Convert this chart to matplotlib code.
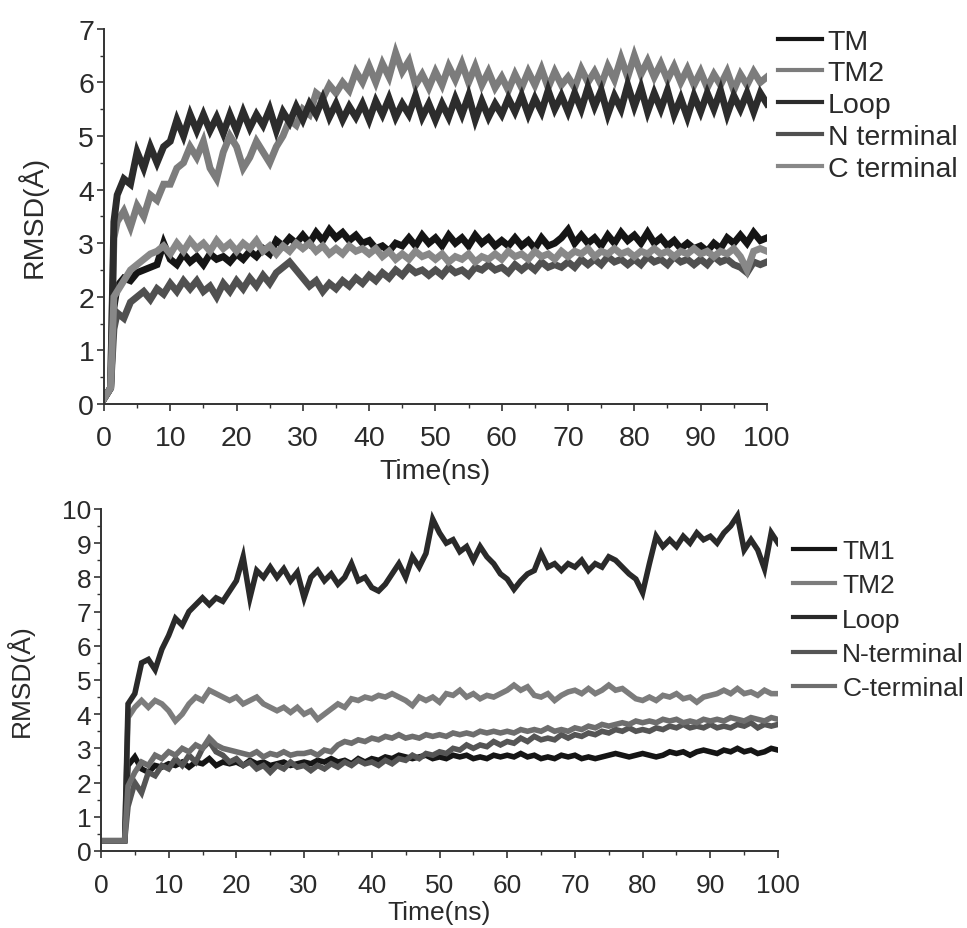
import numpy as np
from matplotlib import pyplot as plt
from matplotlib.ticker import MultipleLocator

# ---- top panel data (time in ns, RMSD in A) ----
t_top = np.concatenate([[0, 0.5, 1.0, 1.5], np.arange(2, 101)])

tm_top = [0.1, 0.2, 0.3, 1.8,
          2.2, 2.35, 2.3, 2.45, 2.5, 2.55, 2.6, 3.0,
          2.7, 2.6, 2.8, 2.65, 2.75, 2.6, 2.8, 2.7, 2.75, 2.65,
          2.8, 2.7, 2.85, 2.75, 2.9, 2.8, 3.05, 2.95, 3.1, 3.0,
          3.15, 3.0, 3.2, 3.05, 3.25, 3.1, 3.2, 3.05, 3.15, 3.0,
          3.05, 2.9, 2.95, 2.85, 3.0, 2.95, 3.1, 2.95, 3.15, 3.0,
          3.1, 2.95, 3.15, 3.0, 3.1, 2.95, 3.15, 3.0, 3.1, 2.95,
          3.05, 2.95, 3.1, 2.95, 3.05, 2.9, 3.1, 2.95, 3.0, 3.1,
          3.25, 3.0, 3.15, 3.0, 3.1, 2.95, 3.15, 3.0, 3.2, 3.05,
          3.15, 3.0, 3.2, 3.0, 3.1, 2.95, 3.05, 2.9, 3.0, 2.9,
          2.95, 2.85, 3.0, 2.9, 3.1, 3.0, 3.15, 3.0, 3.2, 3.05,
          3.1]

tm2_top = [0.1, 0.2, 0.3, 3.1,
           3.4, 3.6, 3.3, 3.7, 3.5, 3.9, 3.8, 4.1,
           4.1, 4.4, 4.5, 4.8, 4.6, 4.9, 4.4, 4.2, 4.7, 5.0,
           4.8, 4.4, 4.6, 4.9, 4.7, 4.5, 4.8, 5.0, 5.3, 5.2,
           5.5, 5.4, 5.8, 5.7, 5.95, 5.8, 6.0, 5.85, 6.2, 6.0,
           6.3, 6.0, 6.35, 6.1, 6.55, 6.2, 6.4, 5.95, 6.15, 5.9,
           6.2, 5.95, 6.3, 6.05, 6.35, 6.0, 6.3, 5.95, 6.2, 5.9,
           6.1, 5.85, 6.15, 5.9, 6.2, 5.95, 6.25, 5.9, 6.2, 5.95,
           6.1, 5.9, 6.25, 6.0, 6.2, 5.95, 6.3, 6.05, 6.45, 6.1,
           6.5, 6.15, 6.4, 6.1, 6.35, 6.05, 6.3, 6.0, 6.25, 5.95,
           6.2, 5.9, 6.15, 5.95, 6.2, 5.85, 6.15, 5.95, 6.2, 6.0,
           6.1]

loop_top = [0.1, 0.2, 0.3, 3.4,
            3.9, 4.2, 4.1, 4.7, 4.4, 4.8, 4.5, 4.8,
            4.9, 5.3, 5.0, 5.4, 5.1, 5.4, 5.1, 5.35, 5.05, 5.4,
            5.1, 5.45, 5.15, 5.4, 5.2, 5.5, 5.1, 5.45, 5.25, 5.55,
            5.3, 5.6, 5.4, 5.7, 5.35, 5.6, 5.3, 5.55, 5.35, 5.6,
            5.3, 5.65, 5.4, 5.7, 5.35, 5.6, 5.4, 5.75, 5.35, 5.6,
            5.3, 5.6, 5.35, 5.7, 5.4, 5.75, 5.3, 5.65, 5.35, 5.6,
            5.4, 5.7, 5.45, 5.75, 5.4, 5.7, 5.45, 5.85, 5.5, 5.75,
            5.45, 5.8, 5.5, 5.9, 5.55, 5.85, 5.4, 5.75, 5.5, 5.95,
            5.55, 5.9, 5.45, 5.8, 5.5, 5.85, 5.4, 5.7, 5.35, 5.75,
            5.45, 5.8, 5.5, 5.85, 5.4, 5.75, 5.5, 5.8, 5.45, 5.8,
            5.6]

nterm_top = [0.1, 0.2, 0.3, 1.4,
             1.7, 1.6, 1.9, 2.0, 2.1, 1.95, 2.15, 2.05,
             2.25, 2.1, 2.3, 2.15, 2.3, 2.1, 2.2, 2.0, 2.25, 2.1,
             2.3, 2.15, 2.35, 2.2, 2.4, 2.25, 2.45, 2.55, 2.65, 2.5,
             2.35, 2.2, 2.3, 2.1, 2.25, 2.15, 2.3, 2.2, 2.35, 2.25,
             2.4, 2.3, 2.45, 2.35, 2.5, 2.4, 2.55, 2.45, 2.5, 2.4,
             2.5, 2.4, 2.55, 2.45, 2.5, 2.4, 2.55, 2.5, 2.6, 2.5,
             2.55, 2.45, 2.6, 2.5, 2.6, 2.5, 2.65, 2.55, 2.6, 2.55,
             2.65, 2.55, 2.7, 2.6, 2.7, 2.6, 2.75, 2.65, 2.7, 2.6,
             2.7, 2.6, 2.75, 2.65, 2.7, 2.6, 2.75, 2.65, 2.7, 2.6,
             2.7, 2.6, 2.75, 2.65, 2.7, 2.6, 2.55, 2.45, 2.65, 2.6,
             2.65]

cterm_top = [0.1, 0.2, 0.3, 2.0,
             2.1, 2.3, 2.5, 2.6, 2.7, 2.8, 2.85, 2.95,
             2.8, 3.0, 2.85, 3.05, 2.9, 3.0, 2.85, 3.05, 2.9, 3.0,
             2.85, 3.0, 2.9, 3.05, 2.85, 2.95, 2.8, 2.95, 2.85, 3.0,
             2.9, 3.0, 2.85, 2.95, 2.8, 2.9, 2.8, 2.95, 2.85, 2.9,
             2.8, 2.9, 2.75, 2.85, 2.7, 2.8, 2.7, 2.85, 2.75, 2.8,
             2.7, 2.8, 2.65, 2.75, 2.7, 2.8, 2.65, 2.75, 2.7, 2.8,
             2.7, 2.85, 2.75, 2.8, 2.7, 2.85, 2.75, 2.8, 2.7, 2.85,
             2.75, 2.85, 2.8, 2.9, 2.75, 2.85, 2.8, 2.9, 2.8, 2.85,
             2.75, 2.85, 2.8, 2.9, 2.8, 2.85, 2.75, 2.85, 2.8, 2.9,
             2.8, 2.85, 2.75, 2.85, 2.8, 2.9, 2.75, 2.5, 2.85, 2.9,
             2.85]

# ---- bottom panel data ----
t_bot = np.concatenate([[0, 1, 2, 3, 3.5], np.arange(4, 101)])

tm1_bot = [0.3, 0.3, 0.3, 0.3, 0.3,
           2.5, 2.75, 2.4, 2.3, 2.5, 2.45,
           2.55, 2.5, 2.6, 2.45, 2.6, 2.55, 2.7, 2.5, 2.6, 2.55,
           2.6, 2.5, 2.65, 2.55, 2.6, 2.5, 2.55, 2.6, 2.5, 2.55,
           2.6, 2.55, 2.65, 2.6, 2.7, 2.6, 2.65, 2.55, 2.7, 2.6,
           2.7, 2.65, 2.75, 2.7, 2.8, 2.75, 2.7, 2.75, 2.8, 2.7,
           2.75, 2.7, 2.8, 2.75, 2.8, 2.7, 2.75, 2.7, 2.8, 2.75,
           2.8, 2.75, 2.85, 2.75, 2.8, 2.7, 2.75, 2.7, 2.8, 2.75,
           2.8, 2.7, 2.75, 2.7, 2.75, 2.8, 2.85, 2.8, 2.75, 2.8,
           2.85, 2.8, 2.75, 2.8, 2.9, 2.85, 2.9, 2.8, 2.9, 2.95,
           2.9, 2.85, 2.95, 2.9, 3.0, 2.9, 2.95, 2.85, 2.9, 3.0,
           2.95]

tm2_bot = [0.3, 0.3, 0.3, 0.3, 0.3,
           3.9, 4.2, 4.4, 4.2, 4.4, 4.3,
           4.1, 3.8, 4.0, 4.3, 4.5, 4.4, 4.7, 4.6, 4.5, 4.4,
           4.5, 4.3, 4.4, 4.5, 4.3, 4.2, 4.1, 4.2, 4.05, 4.2,
           4.0, 4.1, 3.85, 4.0, 4.15, 4.3, 4.2, 4.45, 4.4, 4.5,
           4.45, 4.55, 4.5, 4.6, 4.5, 4.4, 4.25, 4.5, 4.4, 4.5,
           4.35, 4.6, 4.55, 4.7, 4.5, 4.6, 4.45, 4.55, 4.5, 4.6,
           4.7, 4.85, 4.7, 4.8, 4.55, 4.5, 4.6, 4.4, 4.55, 4.65,
           4.7, 4.6, 4.75, 4.6, 4.7, 4.85, 4.7, 4.75, 4.6, 4.45,
           4.4, 4.5, 4.4, 4.55, 4.5, 4.6, 4.45, 4.5, 4.35, 4.5,
           4.55, 4.6, 4.7, 4.6, 4.75, 4.6, 4.65, 4.55, 4.7, 4.6,
           4.6]

loop_bot = [0.3, 0.3, 0.3, 0.3, 0.3,
            4.3, 4.6, 5.5, 5.6, 5.3, 5.9,
            6.3, 6.8, 6.6, 7.0, 7.2, 7.4, 7.2, 7.4, 7.3, 7.6,
            7.9, 8.6, 7.4, 8.2, 8.0, 8.3, 8.0, 8.25, 7.9, 8.15,
            7.4, 8.0, 8.2, 7.9, 8.1, 7.8, 8.0, 8.4, 7.9, 8.0,
            7.7, 7.6, 7.8, 8.1, 8.4, 8.0, 8.6, 8.3, 8.7, 9.7,
            9.3, 9.0, 9.1, 8.75, 8.9, 8.5, 8.9, 8.6, 8.4, 8.1,
            7.95, 7.65, 7.9, 8.1, 8.2, 8.7, 8.3, 8.4, 8.2, 8.4,
            8.3, 8.5, 8.2, 8.4, 8.3, 8.6, 8.5, 8.3, 8.1, 7.95,
            7.55, 8.4, 9.2, 8.9, 9.1, 8.9, 9.2, 9.0, 9.3, 9.1,
            9.2, 9.0, 9.3, 9.5, 9.8, 8.8, 9.1, 8.8, 8.25, 9.3,
            9.0]

nterm_bot = [0.3, 0.3, 0.3, 0.3, 0.3,
             1.3, 2.0, 1.7, 2.3, 2.2, 2.5,
             2.4, 2.7, 2.5, 2.8, 2.6, 3.0, 3.2, 2.9, 2.8, 2.6,
             2.7, 2.5, 2.6, 2.4, 2.5, 2.3, 2.5, 2.4, 2.6, 2.45,
             2.5, 2.35, 2.5, 2.4, 2.55, 2.45, 2.6, 2.5, 2.65, 2.55,
             2.6, 2.5, 2.65, 2.55, 2.7, 2.65, 2.8, 2.7, 2.85, 2.8,
             2.9, 2.85, 3.0, 2.95, 3.1, 3.0, 3.1, 3.05, 3.2, 3.1,
             3.2, 3.15, 3.3, 3.2, 3.35, 3.25, 3.3, 3.25, 3.4, 3.3,
             3.4, 3.35, 3.45, 3.4, 3.5, 3.45, 3.55, 3.5, 3.6, 3.5,
             3.55, 3.5, 3.6, 3.55, 3.65, 3.6, 3.7, 3.6, 3.65, 3.6,
             3.7, 3.6, 3.65, 3.6, 3.7, 3.65, 3.75, 3.6, 3.7, 3.65,
             3.7]

cterm_bot = [0.3, 0.3, 0.3, 0.3, 0.3,
             1.9, 2.3, 2.6, 2.5, 2.8, 2.7,
             2.9, 2.8, 3.0, 2.9, 3.1, 3.0, 3.3, 3.1, 3.0, 2.95,
             2.9, 2.85, 2.8, 2.9, 2.75, 2.85, 2.8, 2.9, 2.8, 2.85,
             2.85, 2.9, 2.8, 2.95, 2.9, 3.1, 3.2, 3.15, 3.25, 3.2,
             3.3, 3.25, 3.35, 3.3, 3.4, 3.3, 3.35, 3.3, 3.4, 3.35,
             3.4, 3.35, 3.45, 3.4, 3.45, 3.4, 3.5, 3.45, 3.5, 3.45,
             3.5, 3.45, 3.55, 3.5, 3.55, 3.5, 3.6, 3.5, 3.55, 3.5,
             3.6, 3.55, 3.65, 3.6, 3.7, 3.65, 3.7, 3.75, 3.7, 3.8,
             3.75, 3.8, 3.75, 3.85, 3.8, 3.85, 3.75, 3.8, 3.75, 3.85,
             3.8, 3.85, 3.8, 3.9, 3.85, 3.8, 3.9, 3.85, 3.8, 3.9,
             3.85]

top_labels = ['TM', 'TM2', 'Loop', 'N terminal', 'C terminal']
top_colors = ['#151515', '#7c7c7c', '#2c2c2c', '#505050', '#888888']
bot_labels = ['TM1', 'TM2', 'Loop', 'N-terminal', 'C-terminal']
bot_colors = ['#151515', '#7c7c7c', '#2a2a2a', '#555555', '#6e6e6e']

plt.rcParams['font.family'] = ['Liberation Sans', 'DejaVu Sans']
txt = '#2a2a2a'

fig = plt.figure(figsize=(9.67, 9.29), dpi=100)
ax1 = fig.add_axes([0.1075, 0.564, 0.6856, 0.404])
ax2 = fig.add_axes([0.1044, 0.0829, 0.7002, 0.3682])


def style(ax, ymax, fs, xpad, xlabpad, ylabpad):
    for s in ['top', 'right']:
        ax.spines[s].set_visible(False)
    for s in ['left', 'bottom']:
        ax.spines[s].set_color('#333333')
        ax.spines[s].set_linewidth(1.4)
    ax.set_xlim(0, 100)
    ax.set_ylim(0, ymax)
    ax.xaxis.set_major_locator(MultipleLocator(10))
    ax.xaxis.set_minor_locator(MultipleLocator(5))
    ax.yaxis.set_major_locator(MultipleLocator(1))
    ax.yaxis.set_minor_locator(MultipleLocator(0.5))
    ax.tick_params(which='major', direction='out', length=5, width=1.2,
                   color='#333333', labelsize=fs, labelcolor=txt, pad=2)
    ax.tick_params(axis='x', which='major', pad=xpad)
    ax.tick_params(which='minor', direction='out', length=3, width=1.0,
                   color='#333333')
    ax.set_xlabel('Time(ns)', fontsize=fs, color=txt, labelpad=xlabpad)
    ax.set_ylabel('RMSD(Å)', fontsize=fs, color=txt, labelpad=ylabpad)


top_series = [tm_top, tm2_top, loop_top, nterm_top, cterm_top]
for ys, lab, c in zip(top_series, top_labels, top_colors):
    ax1.plot(t_top, ys, color=c, lw=5, label=lab, solid_joinstyle='miter')
style(ax1, 7, 20.5, 10, 5, 22)
leg1 = ax1.legend(loc='upper left', bbox_to_anchor=(1.0166, 1.0),
                  frameon=False, fontsize=20.5, handlelength=1.55,
                  handletextpad=0.2, labelspacing=0.2, borderpad=0,
                  borderaxespad=0, labelcolor=txt)
for ln in leg1.get_lines():
    ln.set_linewidth(3)

bot_series = [tm1_bot, tm2_bot, loop_bot, nterm_bot, cterm_bot]
for ys, lab, c in zip(bot_series, bot_labels, bot_colors):
    ax2.plot(t_bot, ys, color=c, lw=4, label=lab, solid_joinstyle='miter')
style(ax2, 10, 19, 11, 2, 20)
leg2 = ax2.legend(loc='upper left', bbox_to_anchor=(1.022, 0.912),
                  frameon=False, fontsize=19, handlelength=1.6,
                  handletextpad=0.27, labelspacing=0.39, borderpad=0,
                  borderaxespad=0, labelcolor=txt)
for ln in leg2.get_lines():
    ln.set_linewidth(3)

plt.savefig('out.png', dpi=100)
